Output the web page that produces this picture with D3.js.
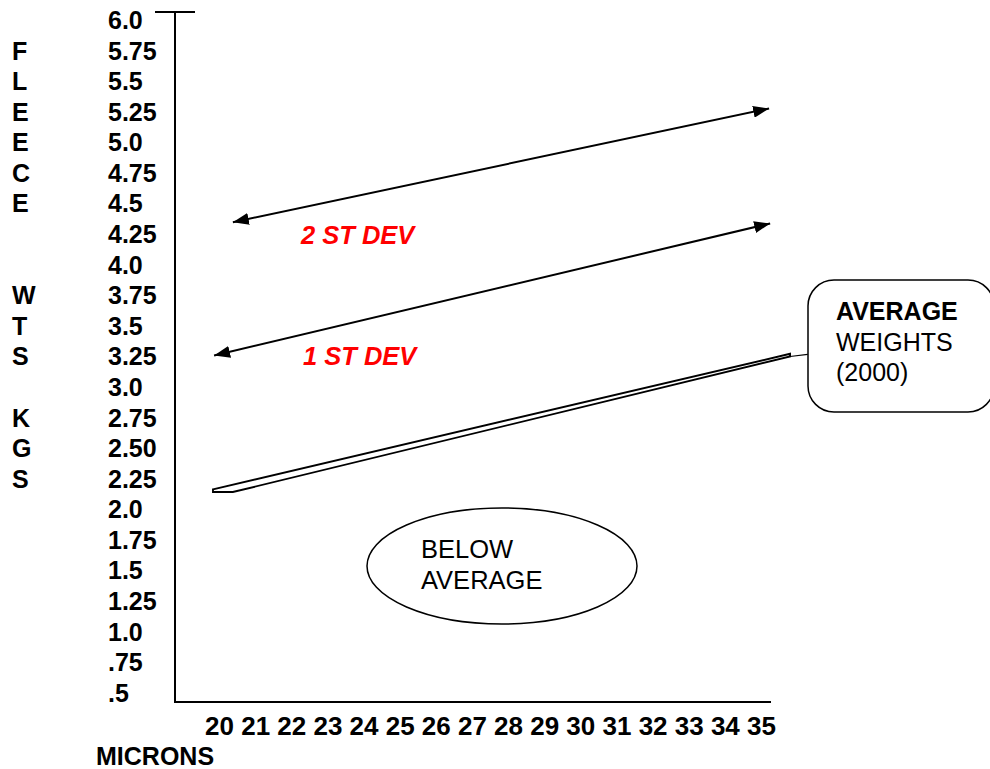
<!DOCTYPE html>
<html><head><meta charset="utf-8">
<script src="https://cdn.jsdelivr.net/npm/d3@7/dist/d3.min.js"></script>
<style>
html,body{margin:0;padding:0;background:#fff;}
text{font-family:"Liberation Sans",Arial,sans-serif;}
</style></head>
<body>
<svg id="c" width="990" height="769"></svg>
<script>
// ---- data ----
const yTickValues = [6.0,5.75,5.5,5.25,5.0,4.75,4.5,4.25,4.0,3.75,3.5,3.25,3.0,2.75,2.5,2.25,2.0,1.75,1.5,1.25,1.0,0.75,0.5];
const yTickLabels = ["6.0","5.75","5.5","5.25","5.0","4.75","4.5","4.25","4.0","3.75","3.5","3.25","3.0","2.75","2.50","2.25","2.0","1.75","1.5","1.25","1.0",".75",".5"];
const xTickValues = [20,21,22,23,24,25,26,27,28,29,30,31,32,33,34,35];
const sideLetters = [["F",5.75],["L",5.5],["E",5.25],["E",5.0],["C",4.75],["E",4.5],["W",3.75],["T",3.5],["S",3.25],["K",2.75],["G",2.5],["S",2.25]];
// arrows (microns, kg)
const twoStDev = [[20.37,4.35],[35.21,5.28]];
const oneStDev = [[19.85,3.26],[35.24,4.34]];
// average weights band outline
const averageBand = [[19.82,2.166],[35.79,3.274],[35.79,3.252],[20.37,2.144],[19.82,2.144]];
const calloutPointer = [[35.79,3.252],[36.28,3.27]];

const svg = d3.select("#c");
const x = d3.scaleLinear().domain([20,35]).range([219.5,761.5]);
const y = d3.scaleLinear().domain([6,0.5]).range([20.4,693.1]);
const line = d3.line().x(d=>x(d[0])).y(d=>y(d[1]));

// axes
svg.append("line").attr("x1",175).attr("x2",175).attr("y1",12).attr("y2",702).attr("stroke","#000").attr("stroke-width",2);
svg.append("line").attr("x1",155).attr("x2",195).attr("y1",12).attr("y2",12).attr("stroke","#000").attr("stroke-width",2);
svg.append("line").attr("x1",174).attr("x2",771).attr("y1",702).attr("y2",702).attr("stroke","#000").attr("stroke-width",2);

// y labels
svg.selectAll("text.yl").data(yTickValues).enter().append("text")
  .attr("x",108).attr("y",d=>y(d)+8.6)
  .attr("font-size",25).attr("font-weight","bold")
  .text((d,i)=>yTickLabels[i]);
// side letters
svg.selectAll("text.sl").data(sideLetters).enter().append("text")
  .attr("x",12).attr("y",d=>y(d[1])+8.6)
  .attr("font-size",25).attr("font-weight","bold")
  .text(d=>d[0]);
// x labels
svg.selectAll("text.xl").data(xTickValues).enter().append("text")
  .attr("x",d=>x(d)).attr("y",735).attr("text-anchor","middle")
  .attr("font-size",26).attr("font-weight","bold")
  .text(d=>d);
svg.append("text").attr("x",96).attr("y",765).attr("font-size",25).attr("font-weight","bold").text("MICRONS");

// arrow markers
const defs = svg.append("defs");
["s","e"].forEach(k=>{
  defs.append("marker").attr("id","ah"+k).attr("viewBox","0 0 16 12")
    .attr("refX",k==="e"?16:0).attr("refY",6).attr("markerWidth",16).attr("markerHeight",12)
    .attr("markerUnits","userSpaceOnUse").attr("orient","auto")
    .append("path").attr("d",k==="e"?"M0,0L16,6L0,12Z":"M16,0L0,6L16,12Z").attr("fill","#000");
});
[twoStDev,oneStDev].forEach(a=>{
  svg.append("path").attr("d",line(a)).attr("fill","none").attr("stroke","#000").attr("stroke-width",2)
    .attr("marker-start","url(#ahs)").attr("marker-end","url(#ahe)");
});
svg.append("text").attr("x",301).attr("y",244).attr("font-size",25.5).attr("font-weight","bold").attr("font-style","italic").attr("fill","#ff0000").text("2 ST DEV");
svg.append("text").attr("x",303).attr("y",365).attr("font-size",25.5).attr("font-weight","bold").attr("font-style","italic").attr("fill","#ff0000").text("1 ST DEV");

// average band
svg.append("path").attr("d",line(averageBand)+"Z").attr("fill","#fff").attr("stroke","#000").attr("stroke-width",1.9);
svg.append("path").attr("d",line(calloutPointer)).attr("fill","none").attr("stroke","#000").attr("stroke-width",1.2);

// callout box
svg.append("rect").attr("x",808).attr("y",280).attr("width",186).attr("height",132).attr("rx",26).attr("ry",26)
  .attr("fill","#fff").attr("stroke","#000").attr("stroke-width",1.5);
svg.append("text").attr("x",836).attr("y",320).attr("font-size",25).attr("font-weight","bold").text("AVERAGE");
svg.append("text").attr("x",836).attr("y",351).attr("font-size",25).text("WEIGHTS");
svg.append("text").attr("x",836).attr("y",381).attr("font-size",25).text("(2000)");

// below average ellipse
svg.append("ellipse").attr("cx",502).attr("cy",566).attr("rx",135).attr("ry",58)
  .attr("fill","#fff").attr("stroke","#000").attr("stroke-width",1.5);
svg.append("text").attr("x",421).attr("y",558).attr("font-size",25.5).text("BELOW");
svg.append("text").attr("x",421).attr("y",589).attr("font-size",25.5).text("AVERAGE");
</script>
</body></html>
